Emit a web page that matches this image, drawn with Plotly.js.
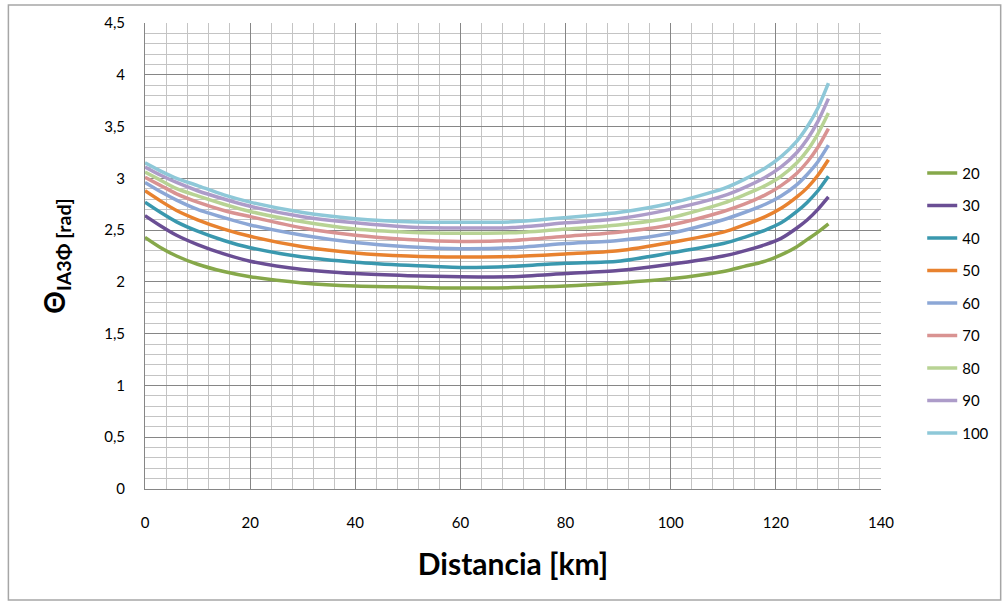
<!DOCTYPE html>
<html>
<head>
<meta charset="utf-8">
<script src="https://cdn.plot.ly/plotly-3.0.1.min.js"></script>
<style>html,body{margin:0;padding:0;background:#fff;}#chart{width:1006px;height:603px;}</style>
</head>
<body>
<div id="chart"></div>
<script>
// Distance [km]
const distancia = [0, 3, 6, 10, 15, 20, 30, 40, 50, 60, 70, 80, 90, 100, 110, 114, 118, 121, 124, 126, 128, 130];

const seriesNames = ["20", "30", "40", "50", "60", "70", "80", "90", "100"];

const s20  = [2.43, 2.33, 2.25, 2.17, 2.10, 2.05, 1.99, 1.96, 1.95, 1.94, 1.945, 1.96, 1.99, 2.03, 2.10, 2.15, 2.20, 2.26, 2.34, 2.41, 2.48, 2.56];
const s30  = [2.64, 2.54, 2.45, 2.36, 2.27, 2.20, 2.12, 2.08, 2.06, 2.05, 2.05, 2.08, 2.11, 2.17, 2.25, 2.30, 2.36, 2.42, 2.52, 2.60, 2.70, 2.82];
const s40  = [2.77, 2.67, 2.58, 2.49, 2.40, 2.33, 2.24, 2.19, 2.16, 2.14, 2.15, 2.18, 2.20, 2.28, 2.37, 2.43, 2.50, 2.57, 2.68, 2.77, 2.88, 3.02];
const s50  = [2.88, 2.78, 2.69, 2.60, 2.51, 2.44, 2.34, 2.28, 2.25, 2.24, 2.245, 2.27, 2.30, 2.38, 2.48, 2.55, 2.63, 2.71, 2.82, 2.91, 3.03, 3.18];
const s60  = [2.96, 2.87, 2.79, 2.70, 2.62, 2.55, 2.45, 2.38, 2.34, 2.32, 2.33, 2.37, 2.40, 2.47, 2.60, 2.67, 2.75, 2.83, 2.94, 3.04, 3.16, 3.32];
const s70  = [3.01, 2.93, 2.85, 2.77, 2.69, 2.63, 2.52, 2.45, 2.41, 2.39, 2.40, 2.44, 2.48, 2.55, 2.68, 2.75, 2.84, 2.93, 3.05, 3.16, 3.30, 3.48];
const s80  = [3.06, 2.98, 2.90, 2.83, 2.75, 2.68, 2.58, 2.51, 2.48, 2.47, 2.475, 2.51, 2.55, 2.62, 2.76, 2.84, 2.93, 3.02, 3.15, 3.27, 3.43, 3.63];
const s90  = [3.11, 3.03, 2.96, 2.88, 2.80, 2.73, 2.63, 2.57, 2.53, 2.52, 2.525, 2.57, 2.61, 2.70, 2.83, 2.91, 3.01, 3.11, 3.25, 3.38, 3.55, 3.77];
const s100 = [3.15, 3.07, 3.00, 2.93, 2.84, 2.77, 2.67, 2.61, 2.58, 2.575, 2.58, 2.62, 2.67, 2.76, 2.90, 2.99, 3.10, 3.21, 3.36, 3.50, 3.68, 3.92];

const seriesValues = [s20, s30, s40, s50, s60, s70, s80, s90, s100];
const seriesColors = ["#86A84A", "#6A4E94", "#3A98AE", "#E8822F", "#8CA7D6", "#D99392", "#B8D394", "#AD9CC9", "#8EC8D8"];

const traces = seriesNames.map((name, i) => ({
  x: distancia,
  y: seriesValues[i],
  name: name,
  legendgroup: "g" + i,
  type: "scatter",
  mode: "lines",
  line: {color: seriesColors[i], width: 3.5, shape: "spline", smoothing: 0.7},
  hoverinfo: "x+y+name"
}));

const FONT = "Lato, 'Open Sans', sans-serif";

const layout = {
  width: 1006,
  height: 603,
  margin: {l: 145, r: 123, t: 23, b: 114},
  paper_bgcolor: "#ffffff",
  plot_bgcolor: "#ffffff",
  separators: ",.",
  font: {family: FONT, size: 15, color: "#000"},
  showlegend: true,
  legend: {
    x: 1.056, y: 0.713, xanchor: "left", yanchor: "top",
    font: {family: FONT, size: 15, color: "#000"},
    tracegroupgap: 10,
    bgcolor: "rgba(0,0,0,0)"
  },
  xaxis: {
    range: [0, 140],
    tick0: 0, dtick: 20,
    ticks: "", showline: true, linecolor: "#868686", linewidth: 1,
    showgrid: true, gridcolor: "#868686", gridwidth: 1,
    minor: {dtick: 4, showgrid: true, gridcolor: "#c4c4c4", gridwidth: 1},
    zeroline: false,
    tickfont: {family: FONT, size: 15, color: "#000"},
    ticklabelstandoff: 20,
    title: {text: "<b>Distancia [km]</b>", font: {family: FONT, size: 30, color: "#000"}, standoff: 23}
  },
  yaxis: {
    range: [0, 4.5],
    tick0: 0, dtick: 0.5,
    ticks: "", showline: true, linecolor: "#868686", linewidth: 1,
    showgrid: true, gridcolor: "#868686", gridwidth: 1,
    minor: {dtick: 0.1, showgrid: true, gridcolor: "#c4c4c4", gridwidth: 1},
    zeroline: false,
    tickfont: {family: FONT, size: 15, color: "#000"},
    ticklabelstandoff: 16,
    title: {text: "<b>Θ<sub>IA3Φ [rad]</sub></b>", font: {family: FONT, size: 28, color: "#000"}, standoff: 30}
  },
  shapes: [{
    type: "rect", xref: "paper", yref: "paper",
    x0: -0.1856, x1: 1.1626, y0: -0.2382, y1: 1.0386,
    line: {color: "#a6a6a6", width: 1.5}, fillcolor: "rgba(0,0,0,0)", layer: "below"
  }]
};

Plotly.newPlot("chart", traces, layout, {displayModeBar: false, staticPlot: true});
</script>
</body>
</html>
